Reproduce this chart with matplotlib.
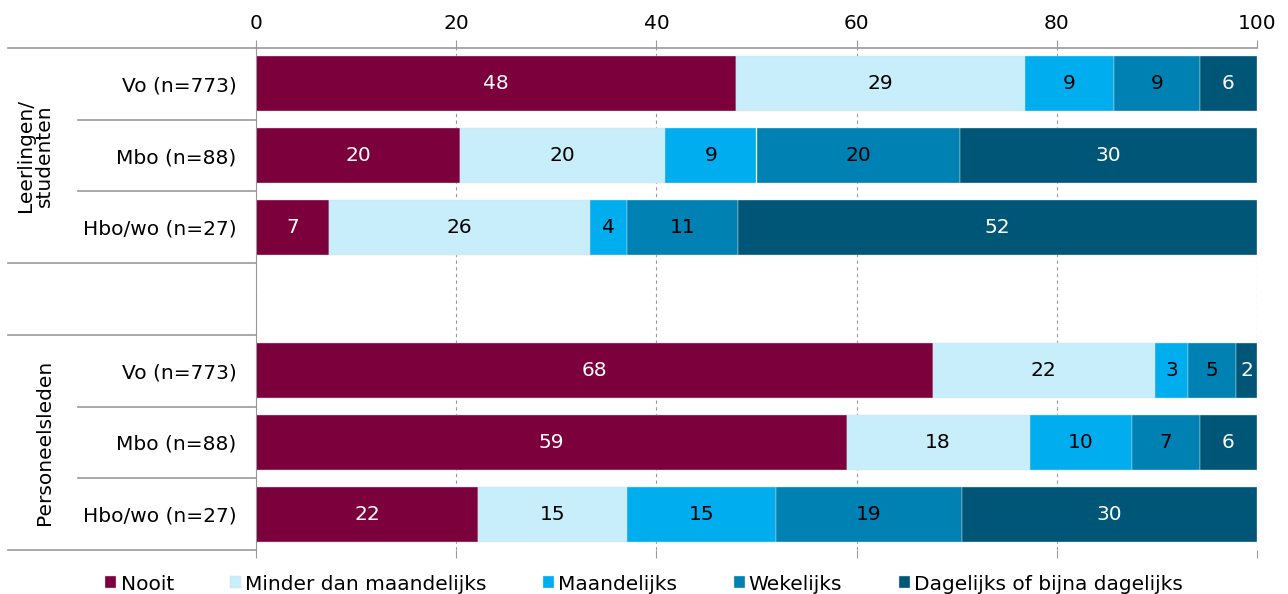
import numpy as np
import matplotlib.pyplot as plt

# categorieen (van boven naar beneden)
rijen = ["Vo (n=773)", "Mbo (n=88)", "Hbo/wo (n=27)",
         "Vo (n=773)", "Mbo (n=88)", "Hbo/wo (n=27)"]
groepen = ["Leerlingen/\nstudenten", "Personeelsleden"]
reeksen = ["Nooit", "Minder dan maandelijks", "Maandelijks", "Wekelijks",
           "Dagelijks of bijna dagelijks"]

nooit = [48.0, 20.4, 7.3, 67.6, 59.0, 22.2]
minder = [28.8, 20.5, 26.1, 22.2, 18.3, 14.9]
maandelijks = [8.9, 9.1, 3.7, 3.3, 10.2, 14.8]
wekelijks = [8.6, 20.3, 11.1, 4.8, 6.8, 18.6]
dagelijks = [5.7, 29.7, 51.8, 2.1, 5.7, 29.5]
labels = [[48, 20, 7, 68, 59, 22],
          [29, 20, 26, 22, 18, 15],
          [9, 9, 4, 3, 10, 15],
          [9, 20, 11, 5, 7, 19],
          [6, 30, 52, 2, 6, 30]]

kleuren = ["#7b003c", "#c8eefc", "#00aeef", "#0081b3", "#005677"]
tekstkleur = ["white", "black", "black", "black", "white"]

fs = 14.5
plt.rcParams['font.family'] = ['DejaVu Sans']
fig = plt.figure(figsize=(12.88, 5.94), dpi=100)
ax = fig.add_axes([256/1288, 1 - 550/594, 1001/1288, 502/594])

ypos = np.array([0, 1, 2, 4, 5, 6])
links = np.zeros(6)
for i, waarden in enumerate([nooit, minder, maandelijks, wekelijks, dagelijks]):
    waarden = np.array(waarden)
    ax.barh(ypos, waarden, left=links, height=0.77, color=kleuren[i],
            edgecolor="#dddddd", linewidth=0.3, label=reeksen[i], zorder=2)
    for j in range(6):
        ax.text(links[j] + waarden[j] / 2, ypos[j], str(labels[i][j]),
                ha="center", va="center", fontsize=fs, color=tekstkleur[i], zorder=3)
    links = links + waarden

ax.set_xlim(0, 100)
ax.set_ylim(6.5, -0.5)
ax.set_xticks([0, 20, 40, 60, 80, 100])
ax.xaxis.tick_top()
ax.tick_params(axis="x", top=True, bottom=True, labelbottom=False, length=6,
               color="#999999", labelsize=fs, pad=5)
ax.set_yticks(ypos)
ax.set_yticklabels(rijen, fontsize=fs)
ax.tick_params(axis="y", length=0, pad=14)
ax.grid(axis="x", linestyle=(0, (3, 3)), color="#999999", linewidth=0.8)
ax.set_axisbelow(True)
for s in ["right", "bottom", "top"]:
    ax.spines[s].set_visible(False)
ax.spines["left"].set_color("#999999")

# scheidingslijnen links
trans = ax.get_yaxis_transform()
for y in [-0.5, 2.5, 3.5, 6.5]:
    ax.plot([-0.248, 0], [y, y], color="#999999", lw=1.2, transform=trans, clip_on=False)
for y in [0.5, 1.5, 4.5, 5.5]:
    ax.plot([-0.178, 0], [y, y], color="#999999", lw=1.2, transform=trans, clip_on=False)
ax.plot([0, 1], [-0.5, -0.5], color="#999999", lw=1.2, transform=trans, clip_on=False)

ax.text(-0.221, 1, groepen[0], rotation=90, ha="center", va="center",
        fontsize=fs, transform=trans, linespacing=1.0)
ax.text(-0.211, 5, groepen[1], rotation=90, ha="center", va="center",
        fontsize=fs, transform=trans)

fig.legend(loc="center", bbox_to_anchor=(0.5, 1 - 584/594), ncol=5, frameon=False,
           fontsize=fs, handlelength=0.55, handleheight=0.55, handletextpad=0.2,
           columnspacing=2.8)

fig.savefig("out.png", dpi=100)
